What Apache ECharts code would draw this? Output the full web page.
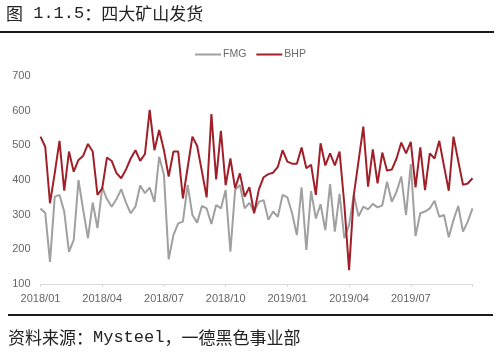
<!DOCTYPE html>
<html>
<head>
<meta charset="utf-8">
<script src="https://cdn.jsdelivr.net/npm/echarts@6/dist/echarts.min.js"></script>
<style>
html,body{margin:0;padding:0;background:#fff;}
#chart{width:500px;height:356px;}
</style>
</head>
<body>
<div id="chart"></div>
<script>
// Tick labels shown every 13 weekly points
var tickLabels = ['2018/01', '2018/04', '2018/07', '2018/10', '2019/01', '2019/04', '2019/07'];
var tickStep = 13;

// Weekly shipments (10k t)
var fmgValues = [
  318, 305, 164, 352, 357, 309, 193, 227, 400, 313,
  232, 335, 261, 379, 345, 323, 345, 373, 335, 304,
  323, 384, 362, 378, 337, 467, 415, 171, 241, 275,
  280, 386, 299, 277, 325, 318, 273, 328, 318, 371,
  193, 371, 386, 318, 334, 309, 337, 342, 285, 309,
  294, 357, 350, 304, 241, 379, 198, 368, 289, 330,
  255, 388, 251, 360, 232, 270, 357, 295, 323, 315,
  331, 321, 327, 395, 337, 366, 410, 299, 446, 238,
  304, 309, 318, 340, 294, 299, 235, 285, 325, 251,
  280, 318
];
var bhpValues = [
  525, 496, 333, 420, 513, 369, 482, 424, 458, 470,
  504, 482, 357, 376, 465, 455, 420, 405, 430, 462,
  486, 455, 475, 602, 486, 544, 486, 410, 482, 482,
  347, 436, 525, 498, 425, 350, 590, 402, 542, 385,
  462, 376, 419, 352, 379, 304, 373, 408, 417, 421,
  438, 486, 453, 447, 447, 494, 434, 444, 357, 506,
  442, 477, 442, 482, 330, 140, 357, 455, 554, 381,
  488, 390, 479, 427, 430, 462, 508, 477, 510, 379,
  494, 371, 477, 462, 513, 440, 369, 525, 455, 386,
  390, 405
];

var categories = fmgValues.map(function (_, i) { return 'w' + i; });

var chart = echarts.init(document.getElementById('chart'), null, {renderer: 'canvas'});
var labelFont = 'Liberation Sans';
var cjk = '"Noto Sans CJK SC"';
var mono = '"Liberation Mono"';
var option = {
  animation: false,
  backgroundColor: '#ffffff',
  legend: {
    left: 190, top: 44,
    itemWidth: 26, itemHeight: 2, itemGap: 10,
    icon: 'rect',
    textStyle: {color: '#6a6a6a', fontSize: 10.5, fontFamily: labelFont, padding: [0, 0, 0, -3]},
    data: ['FMG', 'BHP']
  },
  grid: {left: 40.5, right: 27.5, top: 76, bottom: 72},
  xAxis: {
    type: 'category',
    boundaryGap: false,
    data: categories,
    axisLine: {lineStyle: {color: '#d9d9d9', width: 1}},
    axisTick: {show: true, interval: tickStep - 1, length: 3, lineStyle: {color: '#d9d9d9'}},
    axisLabel: {
      interval: tickStep - 1,
      color: '#666666', fontSize: 11, fontFamily: labelFont, margin: 9,
      formatter: function (v, idx) { var k = idx / tickStep; return tickLabels[k] || ''; }
    },
    splitLine: {show: false}
  },
  yAxis: {
    type: 'value',
    min: 100, max: 700, interval: 100,
    axisLine: {show: false},
    axisTick: {show: false},
    splitLine: {show: false},
    axisLabel: {color: '#666666', fontSize: 11, fontFamily: labelFont, margin: 10}
  },
  series: [
    {name: 'FMG', type: 'line', data: fmgValues, symbol: 'none',
     lineStyle: {color: '#a0a0a0', width: 2}, itemStyle: {color: '#a0a0a0'}},
    {name: 'BHP', type: 'line', data: bhpValues, symbol: 'none',
     lineStyle: {color: '#a11f29', width: 2}, itemStyle: {color: '#a11f29'}}
  ],
  graphic: [
    {type: 'text', left: 6, top: 5,
     style: {
       text: '{a|图}{b| 1.1.5}{a|：四大矿山发货}',
       rich: {
         a: {font: '17px ' + cjk, fill: '#222222'},
         b: {font: '17px ' + mono, fill: '#222222'}
       }
     }},
    {type: 'line', shape: {x1: 0, y1: 32, x2: 494, y2: 32}, style: {stroke: '#1a1a1a', lineWidth: 2}},
    {type: 'line', shape: {x1: 8, y1: 315, x2: 493, y2: 315}, style: {stroke: '#1a1a1a', lineWidth: 2}},
    {type: 'text', left: 8, top: 329,
     style: {
       text: '{a|资料来源：}{b|Mysteel}{a|，一德黑色事业部}',
       rich: {
         a: {font: '17px ' + cjk, fill: '#222222'},
         b: {font: '17px ' + mono, fill: '#222222'}
       }
     }}
  ]
};
chart.setOption(option);
</script>
</body>
</html>
